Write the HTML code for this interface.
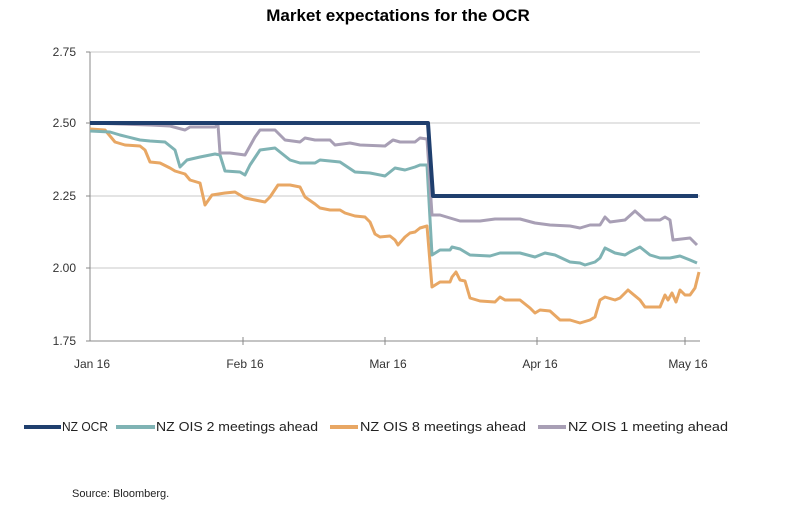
<!DOCTYPE html>
<html><head><meta charset="utf-8"><style>
body{margin:0;background:#fff;}
svg{display:block;font-family:"Liberation Sans",Arial,sans-serif;}
</style></head><body>
<svg width="800" height="529" viewBox="0 0 800 529">
<text x="398" y="21" text-anchor="middle" font-size="17" font-weight="bold" fill="#000">Market expectations for the OCR</text>
<g stroke="#c8c8c8" stroke-width="1">
<line x1="90" y1="52" x2="700" y2="52"/>
<line x1="90" y1="123" x2="700" y2="123"/>
<line x1="90" y1="196" x2="700" y2="196"/>
<line x1="90" y1="268" x2="700" y2="268"/>
</g>
<g stroke="#888" stroke-width="1">
<line x1="90" y1="52" x2="90" y2="341"/>
<line x1="86" y1="341" x2="700" y2="341"/>
<line x1="86" y1="52" x2="90" y2="52"/><line x1="86" y1="123" x2="90" y2="123"/><line x1="86" y1="196" x2="90" y2="196"/><line x1="86" y1="268" x2="90" y2="268"/>
<line x1="243" y1="337" x2="243" y2="345"/><line x1="385" y1="337" x2="385" y2="345"/><line x1="537" y1="337" x2="537" y2="345"/><line x1="685" y1="337" x2="685" y2="345"/>
</g>
<g font-size="12" fill="#333" text-anchor="end">
<text x="76" y="56">2.75</text><text x="76" y="127">2.50</text><text x="76" y="200">2.25</text><text x="76" y="272">2.00</text><text x="76" y="345">1.75</text>
</g>
<g font-size="12" fill="#333" text-anchor="middle">
<text x="92" y="368">Jan 16</text><text x="245" y="368">Feb 16</text><text x="388" y="368">Mar 16</text><text x="540" y="368">Apr 16</text><text x="688" y="368">May 16</text>
</g>
<g fill="none" stroke-width="3" stroke-linejoin="round">
<polyline stroke="#e8a764" points="90,129 105,130 115,142 125,145 140,146 145,150 150,162 160,163 170,168 175,171 185,174 190,180 200,183 205,205 212,195 225,193 235,192 245,198 255,200 265,202 270,197 278,185 290,185 300,187 305,197 315,204 320,208 330,210 340,210 345,213 355,216 365,217 370,222 375,234 380,237 390,236 395,240 398,245 405,237 410,233 415,232 420,228 427,226 432,287 440,282 450,282 452,277 456,272 460,280 465,281 470,298 480,301 495,302 500,297 505,300 520,300 530,308 535,313 540,310 550,311 560,320 570,320 580,323 590,320 595,317 600,300 605,297 615,300 620,298 628,290 640,300 645,307 660,307 665,295 668,300 672,293 676,302 680,290 685,295 690,295 695,288 699,272"/>
<polyline stroke="#7fb3b4" points="90,131 110,132 120,135 140,140 150,141 165,142 175,150 180,167 187,160 200,157 215,154 220,155 225,171 240,172 245,175 250,165 260,150 275,148 290,160 300,163 315,163 320,160 340,162 355,172 370,173 385,176 395,168 405,170 415,167 420,165 427,165 432,255 440,250 450,250 452,247 460,249 470,255 490,256 500,253 520,253 535,257 545,253 555,255 570,262 580,263 585,265 595,262 600,258 605,248 615,253 625,255 630,252 640,247 650,255 660,258 670,258 680,256 690,260 697,263"/>
<polyline stroke="#a89fb5" points="90,123 120,124 150,125 170,126 185,130 190,127 215,127 218,125 220,153 230,153 245,155 255,137 260,130 275,130 285,140 300,142 305,138 315,140 330,140 335,145 350,143 360,145 385,146 393,140 400,142 415,142 420,138 427,139 432,215 440,215 460,221 480,221 495,219 520,219 535,223 550,225 570,226 580,228 590,225 600,225 605,217 610,222 625,220 635,211 645,220 660,220 665,217 670,220 673,240 690,238 697,245"/>
<polyline stroke="#1f3f6e" stroke-width="4" points="90,123 428,123 433,196 698,196"/>
</g>
<g stroke-width="4">
<line x1="24" y1="427" x2="61" y2="427" stroke="#1f3f6e"/>
<line x1="116" y1="427" x2="155" y2="427" stroke="#7fb3b4"/>
<line x1="330" y1="427" x2="358" y2="427" stroke="#e8a764"/>
<line x1="538" y1="427" x2="566" y2="427" stroke="#a89fb5"/>
</g>
<g font-size="13" fill="#222">
<text x="62" y="431" textLength="46" lengthAdjust="spacingAndGlyphs">NZ OCR</text>
<text x="156" y="431" textLength="162" lengthAdjust="spacingAndGlyphs">NZ OIS 2 meetings ahead</text>
<text x="360" y="431" textLength="166" lengthAdjust="spacingAndGlyphs">NZ OIS 8 meetings ahead</text>
<text x="568" y="431" textLength="160" lengthAdjust="spacingAndGlyphs">NZ OIS 1 meeting ahead</text>
</g>
<text x="72" y="497" font-size="11" fill="#222">Source: Bloomberg.</text>
</svg>
</body></html>
